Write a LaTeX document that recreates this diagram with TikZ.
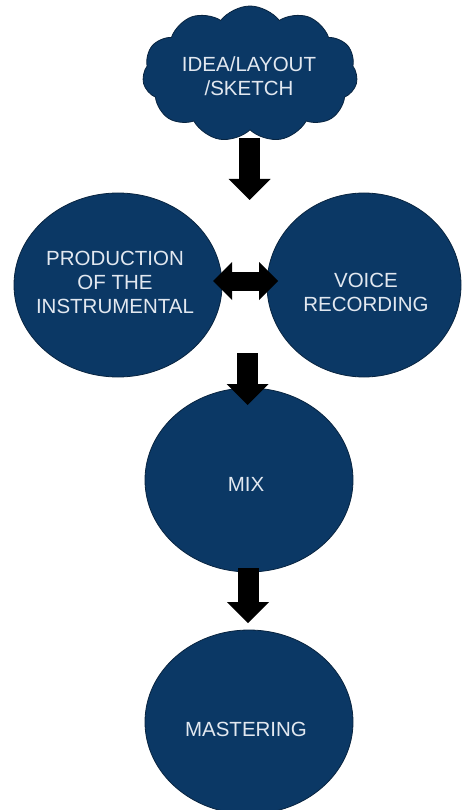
\documentclass[tikz,border=0pt]{standalone}
\usepackage{fontspec}
\setmainfont{Liberation Sans}
\usetikzlibrary{shapes.geometric,shapes.symbols,arrows.meta}
\definecolor{navy}{RGB}{11,56,101}
\definecolor{navyedge}{RGB}{8,36,64}
\definecolor{labeltext}{RGB}{226,232,240}
\tikzset{
  stage/.style={ellipse, fill=navy, draw=navyedge, line width=0.8pt,
    minimum width=208pt, minimum height=184pt, inner sep=0pt},
  stagetext/.style={text=labeltext, align=center,
    font=\fontsize{20.5}{24}\selectfont},
  thought/.style={cloud, cloud puffs=11, cloud puff arc=105, aspect=1.6,
    fill=navy, draw=navyedge, line width=0.8pt,
    minimum width=215pt, minimum height=136pt, inner sep=0pt},
  blockarrow/.style={draw=black, line width=21pt,
    -{Triangle[length=21pt, width=42pt, line width=0pt]}},
  twoway/.style={draw=black, line width=19pt,
    {Triangle[length=19pt, width=38pt, line width=0pt]}-{Triangle[length=19pt, width=38pt, line width=0pt]}}
}
\begin{document}
\begin{tikzpicture}[x=1pt, y=-1pt]
\useasboundingbox (0,0) rectangle (463,810);

% workflow stages
\node[thought] (idea) at (250,74) {};
\node[stagetext] at (249,76) {IDEA/LAYOUT\\/SKETCH};

\node[stage] (prod) at (118,285) {};
\node[stagetext] at (115,282) {PRODUCTION\\OF THE\\INSTRUMENTAL};

\node[stage, minimum width=194pt] (voice) at (364,285) {};
\node[stagetext] at (366,292) {VOICE\\RECORDING};

\node[stage] (mix) at (249,480) {};
\node[stagetext] at (246,484) {MIX};

\node[stage] (master) at (249,722) {};
\node[stagetext] at (246,729) {MASTERING};

% arrow end points
\coordinate (a1s) at (249.5,138);
\coordinate (a1e) at (249.5,200);
\coordinate (a2s) at (247.5,353);
\coordinate (a2e) at (247.5,405);
\coordinate (a3s) at (248,568);
\coordinate (a3e) at (248,623);
\coordinate (dl) at (213,281);
\coordinate (dr) at (278,281);

% connectors
\draw[blockarrow] (a1s) -- (a1e);
\draw[twoway] (dl) -- (dr);
\draw[blockarrow] (a2s) -- (a2e);
\draw[blockarrow] (a3s) -- (a3e);
\end{tikzpicture}
\end{document}
